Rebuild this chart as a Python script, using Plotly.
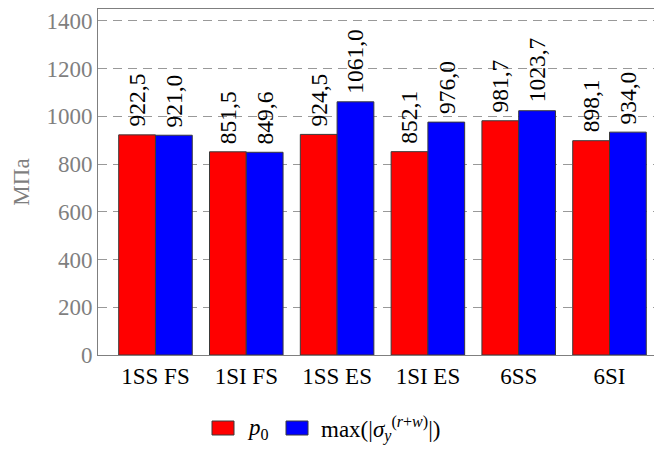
import plotly.graph_objects as go

categories = ["1SS FS", "1SI FS", "1SS ES", "1SI ES", "6SS", "6SI"]
p0_values = [922.5, 851.5, 924.5, 852.1, 981.7, 898.1]
sigma_values = [921.0, 849.6, 1061.0, 976.0, 1023.7, 934.0]
y_ticks = [0, 200, 400, 600, 800, 1000, 1200, 1400]
legend_labels = ["<i>p</i><sub>0</sub>",
                 "max(|<i>σ</i><sub><i>y</i></sub><sup>(<i>r</i>+<i>w</i>)</sup>|)"]
colors = ["#ff0000", "#0000ff"]

FONT = "Liberation Serif"
GRAY = "#7f7f7f"
EDGE = "#3a3a3a"
BARGAP = 0.19

# figure is placed by the page with an 8px body margin, so size/margins compensate
W, H = 654, 446
ML, MR, MT, MB = 90, 5, 1, 99
PW, PH = W - ML - MR, H - MT - MB


def fmt(v):
    return f"{v:.1f}".replace(".", ",")


def px_x(x):
    return (x - ML) / PW


def px_y(y):
    return (H - MB - y) / PH


tf = dict(family=FONT, size=23, color="black")
lab_f = dict(family=FONT, size=23.5, color="black")

fig = go.Figure()
series = [(p0_values, colors[0], legend_labels[0]),
          (sigma_values, colors[1], legend_labels[1])]
bar_w = (1 - BARGAP) / len(series)
annotations = []
for k, (vals, col, name) in enumerate(series):
    fig.add_trace(go.Bar(
        x=categories, y=vals, name=name, showlegend=False,
        marker=dict(color=col, line=dict(color=EDGE, width=1)),
    ))
    off = (k - (len(series) - 1) / 2) * bar_w
    for i, v in enumerate(vals):
        annotations.append(dict(x=i + off, y=v, xref="x", yref="y",
                                text=fmt(v), textangle=-90, showarrow=False,
                                xanchor="center", yanchor="bottom", yshift=6,
                                font=lab_f))

# legend (drawn manually to get pgfplots-like rectangles)
legend_items = [(204, 237, legend_labels[0], colors[0]),
                (278, 311, legend_labels[1], colors[1])]
shapes = []
for rx, tx, label, col in legend_items:
    shapes.append(dict(type="rect", xref="paper", yref="paper",
                       x0=px_x(rx), x1=px_x(rx + 22), y0=px_y(427), y1=px_y(413),
                       fillcolor=col, line=dict(color=EDGE, width=1)))
    annotations.append(dict(xref="paper", yref="paper", x=px_x(tx), y=px_y(421),
                            xanchor="left", yanchor="middle", showarrow=False,
                            text=label, font=tf))

fig.update_layout(
    width=W, height=H,
    margin=dict(l=ML, r=MR, t=MT, b=MB, autoexpand=False),
    paper_bgcolor="white", plot_bgcolor="white",
    font=dict(family=FONT, size=23, color="black"),
    barmode="group", bargap=BARGAP, bargroupgap=0,
    showlegend=False,
    shapes=shapes, annotations=annotations,
    xaxis=dict(range=[-0.633, 5.523], showline=True, linecolor=GRAY, linewidth=1,
               mirror=True, ticks="", showgrid=False,
               tickfont=dict(family=FONT, size=23, color="black")),
    yaxis=dict(range=[0, 1450], tickvals=y_ticks, showline=True, linecolor=GRAY,
               linewidth=1, mirror=True, ticks="", showgrid=True,
               gridcolor="#999999", gridwidth=1, griddash="9px,6px",
               zeroline=False,
               tickfont=dict(family=FONT, size=23, color=GRAY),
               title=dict(text="МПа", font=dict(family=FONT, size=23, color=GRAY),
                          standoff=10)),
)

fig.write_html("out.html")
